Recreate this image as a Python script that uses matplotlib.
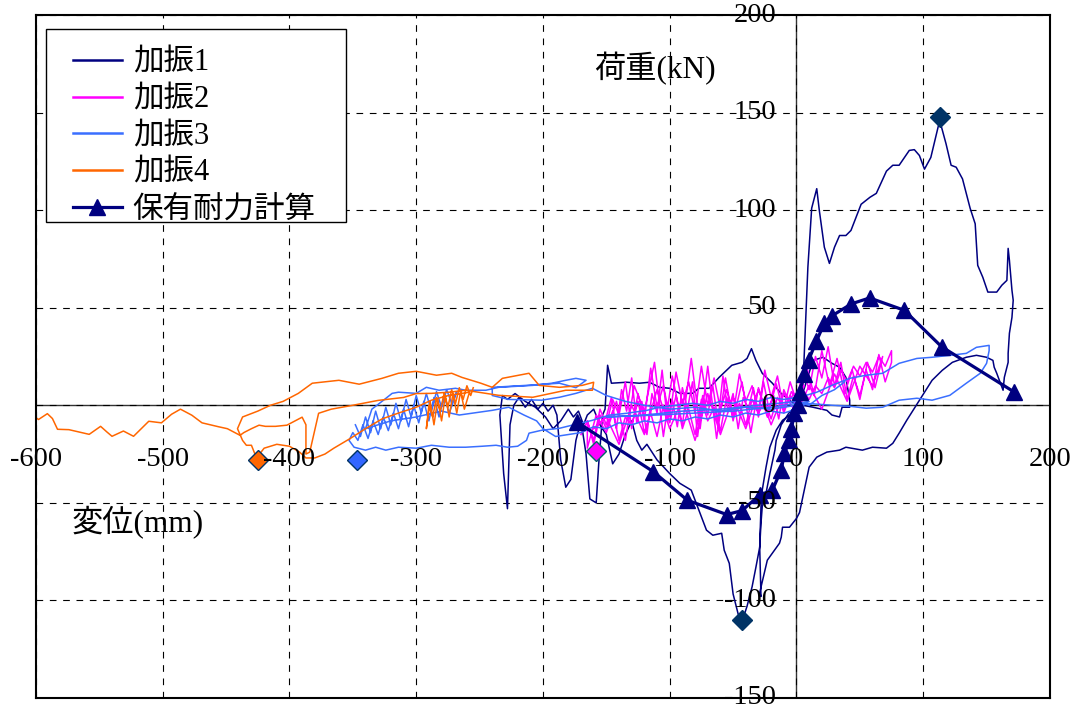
import matplotlib
matplotlib.use("Agg")
import matplotlib.pyplot as plt
from matplotlib.lines import Line2D
from matplotlib.patches import Rectangle
from matplotlib.legend_handler import HandlerLine2D

plt.rcParams['font.family'] = ['Liberation Serif', 'Noto Sans CJK JP']

# ---- data (mm, kN) ----
xticks = [-600, -500, -400, -300, -200, -100, 0, 100, 200]
yticks = [-150, -100, -50, 0, 50, 100, 150, 200]

# 加振1
run1_x = [5, 0, -5.5, -12, -19, -27, -32, -35.5, -39, -43, -51, -61, -69, -77, -82, -92, -100, -108, -116, -124,
          -134, -146, -149, -151, -153, -156, -158, -163, -166, -170, -174, -178, -182, -186, -189, -192, -196,
          -200, -204, -209, -214, -219, -223, -226, -228, -231, -234, -232, -228, -222, -214, -206, -198, -192,
          -186, -180, -176, -172, -168, -165, -160, -155, -150, -145, -140, -135, -130, -126, -122, -118, -110,
          -100, -92, -83, -77, -71, -66, -59, -57, -53, -50, -46, -43, -39, -35, -32, -29, -28, -27, -24, -21,
          -17, -16, -12, -6, 0, 3, 5, 7, 9, 12, 16, 18, 22, 26, 30, 34, 39, 43, 51, 58, 63, 71, 76, 81, 89, 93,
          97, 101, 106, 113, 118, 122, 126, 131, 137, 141, 143, 147, 151, 158, 162, 166, 167, 168, 170, 171, 170,
          168, 167, 167, 164, 163, 158, 156, 155, 150, 142, 134, 123, 115, 107, 103, 97, 92, 87, 81, 76, 71, 60,
          52, 39, 34, 24, 16, 10, 2.4, 0, -5.5, -11, -12, -13.4, -23, -29, -28, -29, -28, -27, -24, -21, -16, -11,
          -3, 3, 13, 21, 28, 34, 39, 42, 42, 36, 34, 28, 24, 13, 5]
run1_y = [-2, 0, 2.6, 6, 11.3, 16.4, 23, 29, 24, 22, 20.5, 14.3, 8.7, 8.7, 6.1, 6.1, 8.7, 9.2, 11.8, 11.3,
          11.8, 11.3, 20.5, -2, -5, -30, -50, -48, -25, -8, -18, -38, -42, -28, -5, 0, -3,
          1, -2, 3, -1, 4, 0, -10, -53, -35, -5, 5, 3, 6, 2, -1, -6, -12,
          -8, -2, -6, -3, -10, -5, -2, -10, -15, -30, -25, -15, -8, -18, -23, -20, -28,
          -35, -40, -43.5, -53.8, -64, -66.6, -65.6, -74.3, -81, -96.7, -107, -111, -103, -93, -83, -72.7, -60.5, -52, -45, -35,
          -23, -18, -10, -4, 0, 3, 8, 40, 70.7, 101, 111, 100, 81, 72.7, 81, 87, 87, 89.6, 103, 106.6, 108.6, 120, 123, 123, 130.6, 131,
          128, 121, 127, 146, 134, 123, 122, 116, 101, 93, 71.7, 65.6, 58, 58, 61.5, 64, 80.4, 74.3, 59, 53.8, 45,
          36.9, 26.6, 22, 14.3, 7.7, 16.4, 19.5, 23, 24.6, 25.6, 24.6, 22, 17.9, 12.8, 8.7, 2.6, -2.6, -7.7, -14.3, -19.5, -22, -21.5,
          -23, -21.5, -23, -24, -26.6, -31.7, -55, -58, -62.5, -62.5, -67.6, -70.7, -79.4, -96, -98, -72.7, -52, -43.5, -31.7, -21.5, -12.8, -7.7,
          -4.1, 2, 23, 24.6, 21.5, 19.5, 14.3, 2.6, -1, -1, -6, -5, -2.6, -1, 0]

# 加振2
run2_x = [-170, -165, -160, -155, -150, -145, -140, -135, -130, -125, -120, -115, -110, -105, -100, -95, -90, -85,
          -80, -75, -70, -65, -60, -55, -50, -45, -40, -35, -30, -25, -20, -15, -10, -5, 0, 5, 10, 15, 20, 25, 30,
          35, 40, 45, 50, 55, 60, 65, 70, 75,
          75, 70, 65, 60, 55, 50, 45, 40, 35, 30, 25, 20, 15, 10, 5, 0, -5, -10, -15, -20, -25, -30, -35, -40, -45,
          -50, -55, -60, -65, -70, -75, -80, -85, -90, -95, -100, -105, -110, -115, -120, -125, -130, -135, -140,
          -145, -150, -155, -160, -165,
          -165, -158, -150, -142, -135, -128, -120, -112, -105, -98, -90, -83, -76, -70, -63, -56, -50, -43, -36,
          -30, -23, -16, -10, -4, 2, 8, 14, 20, 26, 32, 38, 44, 50, 56, 62, 68,
          60, 50, 40, 30, 20, 10, 0, -10, -20, -30, -40, -50, -60, -70, -80, -90, -100, -110, -120, -130, -140,
          -150, -160,
          -150, -146, -142, -138, -134, -130, -126, -122, -118, -114, -110, -106, -102, -98, -94, -90, -86, -82,
          -78, -74, -70, -66, -62, -58, -54, -50, -46, -42, -38, -34, -30, -26, -22, -18, -14, -10, -6, -2, 2, 6]
run2_y = [-15, -8, -20, -5, -12, -3, -18, -6, -10, 2, -14, -4, -16, 0, -9, 5, -12, -2, -15, 3, -8, -1, -13, 4,
          -6, 1, -10, 3, -4, 2, -7, 4, -2, 5, 0, 8, 3, 10, 6, 14, 9, 18, 12, 20, 15, 22, 17, 25, 20, 28,
          22, 12, 26, 8, 18, 5, 15, 3, 22, 10, 30, 14, 25, 8, 18, 2, 12, -2, 15, 4, 18, -3, 10, 2, 16, -5, 8, -2,
          14, 0, 20, -4, 12, 1, 17, -6, 10, -1, 19, -8, 6, -12, 12, -5, 3, -10, -2, -18, -8,
          -22, -5, -14, 2, -18, 10, -3, 22, -16, 15, -10, 24, -12, 20, -17, 14, -8, 12, -14, 9, -6, 11, -4, 7, 1,
          20, 5, 28, 10, 24, 6, 18, 3, 22, 9, 25,
          10, 20, 2, 16, -2, 10, -4, 6, -10, 8, -12, 4, -15, 6, -18, 3, -12, 8, -15, 0, -20, -6, -12,
          -6, 4, -12, 8, -3, 14, -9, 2, -15, 6, -4, 18, -7, 3, -11, 9, -2, 12, -16, 5, -5, 10, -8, 15, -3, 6,
          -12, 4, -2, 9, -6, 12, -1, 5, -7, 8, 2, 6, 1, 10]

# 加振3
run3_x = [-348, -344, -340, -336, -332, -328, -324, -320, -316, -312, -308, -304, -300, -296, -292, -288, -284,
          -280, -276, -272, -268, -270, -274, -278, -282, -286, -290, -294, -298, -302, -306, -310, -314, -318,
          -322, -326, -330, -334, -338, -342, -346, -350,
          -353, -349, -340, -332, -324, -314, -300, -288, -274, -261, -248, -237, -228, -220, -213, -211, -201,
          -187, -177, -161, -148, -134, -118, -108, -95, -82, -70, -60, -50, -40, -30, -20, -10, 0, 2.4, 16, 28,
          42, 55, 68, 81, 95, 107, 121, 134, 142, 152, 152, 150, 145, 134, 121, 107, 95, 81, 68, 55, 42, 28, 8,
          0, -10, -20, -30, -40, -50, -60, -70, -80, -90, -100, -110, -120, -130, -140, -150, -160, -170, -180,
          -190, -200, -205, -215, -227, -240, -255, -266, -280, -300, -320, -340, -335, -325, -319, -314, -300,
          -292, -282, -269, -261, -245, -235, -208, -193, -182, -174, -166, -174, -187, -213, -240, -240, -227,
          -201, -187, -174, -161, -150, -135, -120, -100, -80, -60, -40, -20, 0, 10, -20, -50, -80, -110, -150,
          -120, -90, -60, -30, 0, 10, 20, 30, 38]
run3_y = [-10, -16, -6, -14, -3, -12, -1, -10, 1, -8, 3, -6, 5, -4, 6, -3, 7, -1, 8, 1, 7, 3, -4, 5, -6, 4,
          -8, 2, -9, 0, -11, -2, -12, -4, -13, -6, -15, -8, -17, -10, -18, -14,
          -18, -21.5, -23, -21.5, -23, -21.5, -22, -20.5, -21.5, -21.5, -21, -20.5, -21.5, -21, -18, -14.3,
          -12.8, -11.8, -10.2, -7.7, -5.1, -4.1, -2.6, -1, 0, 1, 0, 2, 1, 3, 2, 4, 3, 4, 4.1, 6.7, 10.2, 13.8,
          15.4, 16.4, 21.5, 24, 24.6, 25.6, 26.6, 29.7, 30.7, 28, 21.5, 16.4, 11.3, 5.1, 2.6, 3.6, 2.6, -1,
          -1.5, -0.5, 0, 1, -2, -4, -3, -5, -4, -6, -5, -7, -6, -8, -7, -9, -8, -10, -9, -12, -11, -14, -15, -16,
          -12, -8, -5, -1, -2.6, -4, -5, -3, -6, -8, -12, -2, 3, 6.1, 6.7, 6.1, 9.2, 7.7, 8.7, 7.7, 7.7, 9.2,
          10.2, 11.3, 12.8, 13.8, 12.8, 9, 11.3, 10.2, 9.2, 5, 3, 2.6, 4.1, 6.1, 8.7, 5, 2, 0, -2, -1, -3, -1,
          -2, 0, 2, -1, -3, -4, -5, -6, -5, -3, -2, 0, 2, 0, 5, 8, 12]

# 加振4
run4_x = [-605, -598, -591, -587, -583, -574, -566, -558, -549, -544, -540, -531, -523, -511, -501, -493, -486,
          -477, -469, -456, -449, -439, -436, -430, -424, -419, -411, -402, -390, -387, -387, -384, -377, -367,
          -350, -330, -310, -300, -288, -274, -261, -235, -208, -182, -161, -160, -169, -187, -203, -211, -232,
          -240, -249, -264, -272, -284, -300, -314, -327, -345, -361, -382, -393, -405, -415, -425, -437, -441,
          -437, -434, -430, -426, -420, -410, -400, -392, -387, -380, -372, -365, -352, -340, -327, -314, -300,
          -288, -274, -258, -262, -265, -268, -271, -274, -277, -280, -283, -286, -289, -292, -290, -287, -284,
          -281, -278, -275, -272, -269, -266, -263, -260, -257, -255]
run4_y = [-4, -7.3, -4.3, -6.8, -12.3, -12.5, -13.7, -14.9, -10.8, -13.7, -15.9, -13.2, -15.9, -8.2, -9, -4.6,
          -2, -5.1, -9, -11, -12, -15.4, -14, -12, -10.2, -10.8, -10.8, -10.2, -6.1, -10, -25, -24, -4.1, -2, 0,
          2.5, 4, 6, 6.1, 6.7, 7.7, 5.1, 4.1, 7.7, 7.7, 11.8, 10.2, 9.2, 10.2, 16.4, 13.8, 9.2, 11.3, 14.3, 16.4,
          15.4, 17.4, 16.4, 13.8, 10.8, 12.8, 11.3, 6.1, 2, 0, -3, -6, -12, -18, -20.5, -20.5, -27, -22, -20,
          -21, -24, -27, -27, -25, -22, -17, -12, -7, -4, -1, 2.6, 5.1, 6.7, -2, 7, -4, 6, -6, 5, -8, 3, -10, 2,
          -12, 0, -6, 4, -3, 6, -1, 8, 1, 9, 3, 10, 5, 9]

# 保有耐力計算
calc_x = [-173, -113, -86, -55, -43, -29, -19, -12, -9.5, -5.5, -4, -1.6, 1, 2.4, 6.3, 9.5, 15.8, 22, 28.4,
          43.4, 57.7, 85, 114.5, 172]
calc_y = [-8.7, -34, -48.7, -56, -54, -46, -43.5, -33, -24.6, -18, -12, -4, 0, 6.7, 16, 23, 33, 42, 46, 52, 55,
          48.7, 30, 6.7]

# peak markers
peak1_x, peak1_y = [113, -43], [147.5, -110]
peak2_x, peak2_y = [-158], [-23.6]
peak3_x, peak3_y = [-347], [-28]
peak4_x, peak4_y = [-425], [-28]

fig = plt.figure(figsize=(10.83, 7.18), dpi=100)
ax = fig.add_axes([0.0332, 0.0279, 0.9363, 0.9512])

ax.plot(run1_x, run1_y, color='#000080', lw=1.1, label='加振1')
ax.plot(run2_x, run2_y, color='#FF00FF', lw=1.1, label='加振2')
ax.plot(run3_x, run3_y, color='#3A6FFF', lw=1.1, label='加振3')
ax.plot(run4_x, run4_y, color='#FF6600', lw=1.1, label='加振4')
ax.plot(calc_x, calc_y, color='#000080', lw=2.3, marker='^', markersize=12, label='保有耐力計算')

ax.plot(peak1_x, peak1_y, ls='none', marker='D', markersize=10.5, color='#003366', mec='#003366')
ax.plot(peak2_x, peak2_y, ls='none', marker='D', markersize=10.5, color='#FF00FF', mec='#006666')
ax.plot(peak3_x, peak3_y, ls='none', marker='D', markersize=10.5, color='#3366FF', mec='#003366')
ax.plot(peak4_x, peak4_y, ls='none', marker='D', markersize=10.5, color='#FF6600', mec='#003366')

ax.axhline(0, color='#333333', lw=1.0, zorder=1)
ax.axvline(0, color='#333333', lw=1.0, zorder=1)

ax.set_xlim(-600, 200)
ax.set_ylim(-150, 200)
ax.set_xticks(xticks)
ax.set_yticks(yticks)
ax.set_xticklabels([])
ax.set_yticklabels([])
ax.tick_params(length=0)
ax.grid(True, color='black', lw=0.8, linestyle=(0, (6, 6)))
for s in ax.spines.values():
    s.set_linewidth(1.5)

for v in xticks:
    ax.text(v, -28, str(v), ha='center', va='center', fontsize=20.5)
for v in yticks:
    ax.text(-16, v, str(v), ha='right', va='center', fontsize=20.5)

ax.text(-112, 172.6, '荷重(kN)', ha='center', va='center', fontsize=22.5)
ax.text(-520, -60, '変位(mm)', ha='center', va='center', fontsize=22.5)

# legend box drawn separately (Excel style padding)
ax.add_patch(Rectangle((0.0099, 0.6969), 0.2959, 0.2826, transform=ax.transAxes,
                       facecolor='white', edgecolor='black', lw=1.0, zorder=4.9))
leg = ax.legend(loc='upper left', bbox_to_anchor=(0.0099, 0.6707, 0.2959, 0.3), mode='expand',
                borderaxespad=0, fontsize=22, frameon=False,
                handlelength=2.05, handletextpad=0.34, labelspacing=0.25, borderpad=0.45,
                handler_map={Line2D: HandlerLine2D(xpad=0.42)})
leg.set_zorder(5)
for h in leg.get_lines()[:4]:
    h.set_linewidth(1.8)

fig.savefig('out.png', dpi=100)
